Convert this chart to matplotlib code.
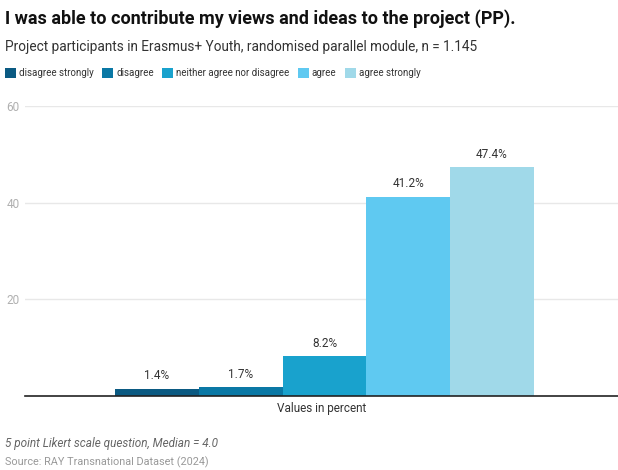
import matplotlib.pyplot as plt
from matplotlib.patches import Patch

plt.rcParams['font.family'] = ['Roboto', 'DejaVu Sans']

categories = ['disagree strongly', 'disagree', 'neither agree nor disagree', 'agree', 'agree strongly']
values = [1.4, 1.7, 8.2, 41.2, 47.4]
colors = ['#0b5a82', '#0a78a5', '#19a2cd', '#5fc9f1', '#a0d9e9']
yticks = [20, 40, 60]

fig = plt.figure(figsize=(6.18, 4.70), dpi=100)
ax = fig.add_axes([25 / 618, 1 - 395.5 / 470, 1 - 25 / 618, (395.5 - 106) / 470])

width = 0.1413
for i, (cat, val, col) in enumerate(zip(categories, values, colors)):
    x = (i - 2) * width + 0.005
    ax.bar(x, val, width=width, color=col, label=cat, zorder=2)
    ax.text(x, val + 1.3, f'{val:.1f}%', ha='center', va='bottom',
            fontsize=8.5, color='#333333')

ax.set_xlim(-0.5, 0.5)
ax.set_ylim(0, 60)
ax.set_yticks(yticks)
ax.set_yticklabels([str(t) for t in yticks])
ax.set_xticks([0])
ax.set_xticklabels(['Values in percent'])
ax.tick_params(axis='x', length=0, labelsize=8.5, labelcolor='#333333', pad=5)
ax.tick_params(axis='y', length=0, labelsize=8.5, labelcolor='#b0b0b0', pad=4)
ax.grid(axis='y', color='#e8e8e8', linewidth=1, zorder=0)
for side in ['top', 'right', 'left']:
    ax.spines[side].set_visible(False)
ax.spines['bottom'].set_color('#222222')
ax.spines['bottom'].set_linewidth(1.2)
ax.spines['bottom'].set_zorder(3)

fig.text(5 / 618, 1 - 19 / 470, 'I was able to contribute my views and ideas to the project (PP).',
         fontsize=13, fontweight='bold', color='#111111', va='center')
fig.text(5 / 618, 1 - 47 / 470, 'Project participants in Erasmus+ Youth, randomised parallel module, n = 1.145',
         fontsize=9.8, color='#333333', va='center')

handles = [Patch(facecolor=c, edgecolor='none') for c in colors]
fig.legend(handles, categories, loc='center left', bbox_to_anchor=(2 / 618, 1 - 73 / 470),
           ncol=5, frameon=False, fontsize=7.0, handlelength=1.15, handleheight=1.2,
           handletextpad=0.3, columnspacing=0.85, borderaxespad=0, borderpad=0.3,
           labelcolor='#333333')

fig.text(5 / 618, 1 - 443 / 470, '5 point Likert scale question, Median = 4.0',
         fontsize=8.5, style='italic', color='#666666', va='center')
fig.text(5 / 618, 1 - 462 / 470, 'Source: RAY Transnational Dataset (2024)',
         fontsize=7.8, color='#999999', va='center')

fig.savefig('out.png', dpi=100)
